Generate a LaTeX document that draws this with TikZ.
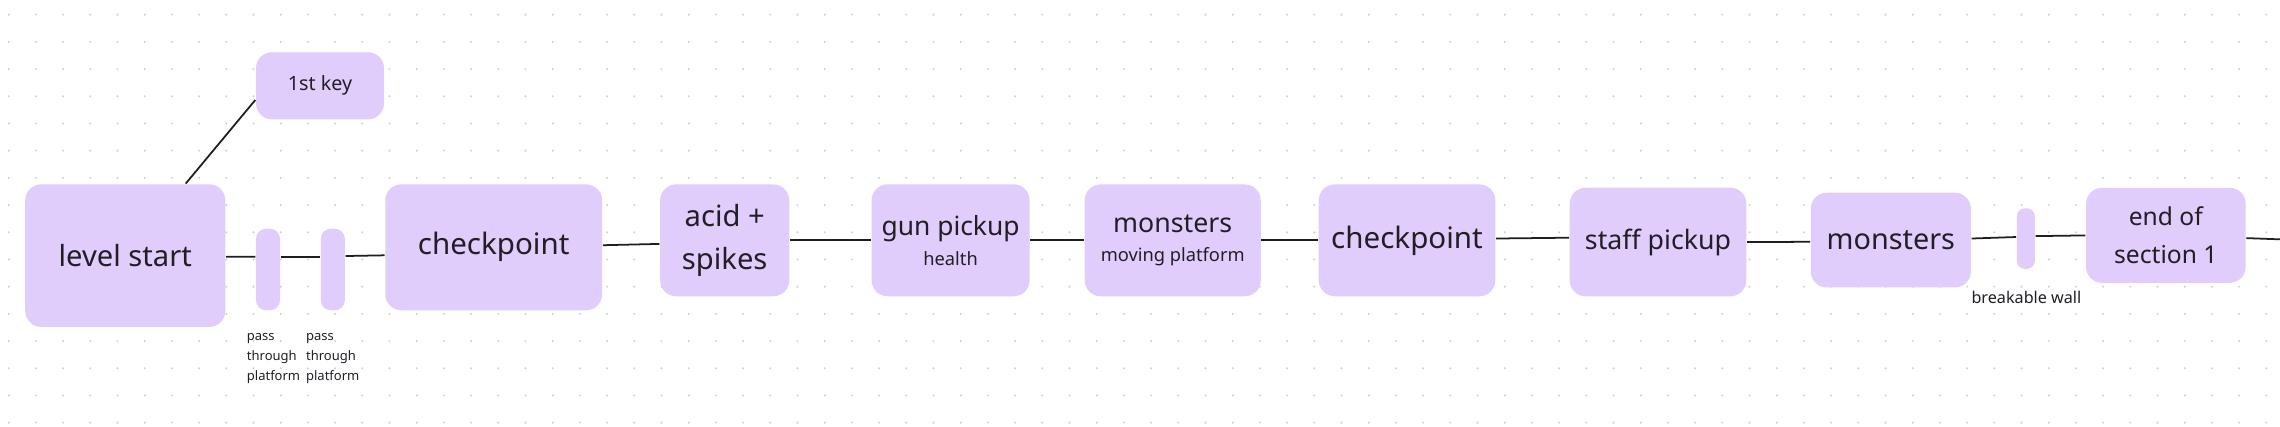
\documentclass[tikz,border=0pt]{standalone}
\usepackage{fontspec}
\setmainfont{Noto Sans}
\usetikzlibrary{calc}
\definecolor{boxfill}{HTML}{E0CDFB}
\definecolor{txt}{HTML}{221E26}
\definecolor{griddot}{HTML}{CFCFCF}
\definecolor{conncol}{HTML}{1E1E1E}
\tikzset{
  bigbox/.style={fill=boxfill, draw=none, rounded corners=0.16cm, inner sep=0pt, align=center, text=txt},
  slimbox/.style={fill=boxfill, draw=none, rounded corners=0.1cm, inner sep=0pt},
  conn/.style={draw=conncol, line width=0.5pt},
  note/.style={text=txt, inner sep=0pt},
}
\begin{document}
\begin{tikzpicture}[x=0.01cm, y=-0.01cm]
\fill[white] (0,0) rectangle (2280,426);
\useasboundingbox (0,0) rectangle (2280,426);
% dot grid
\foreach \i in {0,...,83} {
  \foreach \j in {0,...,15} {
    \fill[griddot] ({8.7+27.2*\i},{14.7+27.2*\j}) circle (1.1);
  }
}
% boxes
\node[bigbox, minimum width=2.00cm, minimum height=1.425cm, font=\fontsize{8.3}{10}\selectfont] (ls) at (125.3,255.6) {level start};
\node[bigbox, minimum width=1.28cm, minimum height=0.67cm, font=\fontsize{5.6}{7}\selectfont] (key) at (320,85.8) {1st key};
\node[slimbox, minimum width=0.24cm, minimum height=0.815cm] (plat1) at (268,269.5) {};
\node[slimbox, minimum width=0.24cm, minimum height=0.815cm] (plat2) at (332.8,269.5) {};
\node[bigbox, minimum width=2.167cm, minimum height=1.258cm, font=\fontsize{8.4}{10}\selectfont] (cp1) at (493.7,247.3) {checkpoint};
\node[bigbox, minimum width=1.29cm, minimum height=1.118cm, font=\fontsize{8.3}{12.4}\selectfont] (acid) at (724.7,240.3) {acid +\\spikes};
\node[bigbox, minimum width=1.58cm, minimum height=1.118cm, font=\fontsize{5.2}{8.4}\selectfont] (gun) at (950.6,240.3) {{\fontsize{7.5}{8.4}\selectfont gun pickup}\\health};
\node[bigbox, minimum width=1.76cm, minimum height=1.118cm, font=\fontsize{5.2}{8.4}\selectfont] (mon1) at (1172.7,240.3) {{\fontsize{7.6}{8.4}\selectfont monsters}\\moving platform};
\node[bigbox, minimum width=1.765cm, minimum height=1.118cm, font=\fontsize{8.4}{10}\selectfont] (cp2) at (1407,240.3) {checkpoint};
\node[bigbox, minimum width=1.765cm, minimum height=1.085cm, font=\fontsize{7.6}{9}\selectfont] (staff) at (1658,242) {staff pickup};
\node[bigbox, minimum width=1.60cm, minimum height=0.947cm, font=\fontsize{8.2}{10}\selectfont] (mon2) at (1890.8,240.1) {monsters};
\node[slimbox, minimum width=0.18cm, minimum height=0.605cm, rounded corners=0.08cm] (wall) at (2025.8,238.6) {};
\node[bigbox, minimum width=1.595cm, minimum height=0.95cm, font=\fontsize{7}{11}\selectfont] (end) at (2165.8,235.3) {end of\\section 1};
% notes
\node[note, anchor=west, align=left, font=\fontsize{3.7}{5.7}\selectfont] (pt1) at (246.2,358.6) {pass\\through\\platform};
\node[note, anchor=west, align=left, font=\fontsize{3.7}{5.7}\selectfont] (pt2) at (305.4,358.6) {pass\\through\\platform};
\node[note, font=\fontsize{4.6}{6}\selectfont] (bw) at (2026.4,297.8) {breakable wall};
\coordinate (rightedge) at (2282,239.4);
% connectors
\draw[conn] ($(ls.north)+(60.4,0)$) -- ($(key.west)+(0,14.2)$);
\draw[conn] ($(ls.east)+(0,1.2)$) -- ($(plat1.west)+(0,-12.7)$);
\draw[conn] ($(plat1.east)+(0,-12.7)$) -- ($(plat2.west)+(0,-12.7)$);
\draw[conn] ($(plat2.east)+(0,-13.5)$) -- ($(cp1.west)+(0,8)$);
\draw[conn] ($(cp1.east)+(0,-2.1)$) -- ($(acid.west)+(0,3.6)$);
\draw[conn] (acid.east) -- (gun.west);
\draw[conn] (gun.east) -- (mon1.west);
\draw[conn] (mon1.east) -- (cp2.west);
\draw[conn] ($(cp2.east)+(0,-1.8)$) -- ($(staff.west)+(0,-4.3)$);
\draw[conn] (staff.east) -- ($(mon2.west)+(0,1.7)$);
\draw[conn] ($(mon2.east)+(0,-1.6)$) -- ($(wall.west)+(0,-1.6)$);
\draw[conn] ($(wall.east)+(0,-2.5)$) -- ($(end.west)+(0,0.1)$);
\draw[conn] ($(end.east)+(0,2.8)$) -- (rightedge);
\end{tikzpicture}
\end{document}
